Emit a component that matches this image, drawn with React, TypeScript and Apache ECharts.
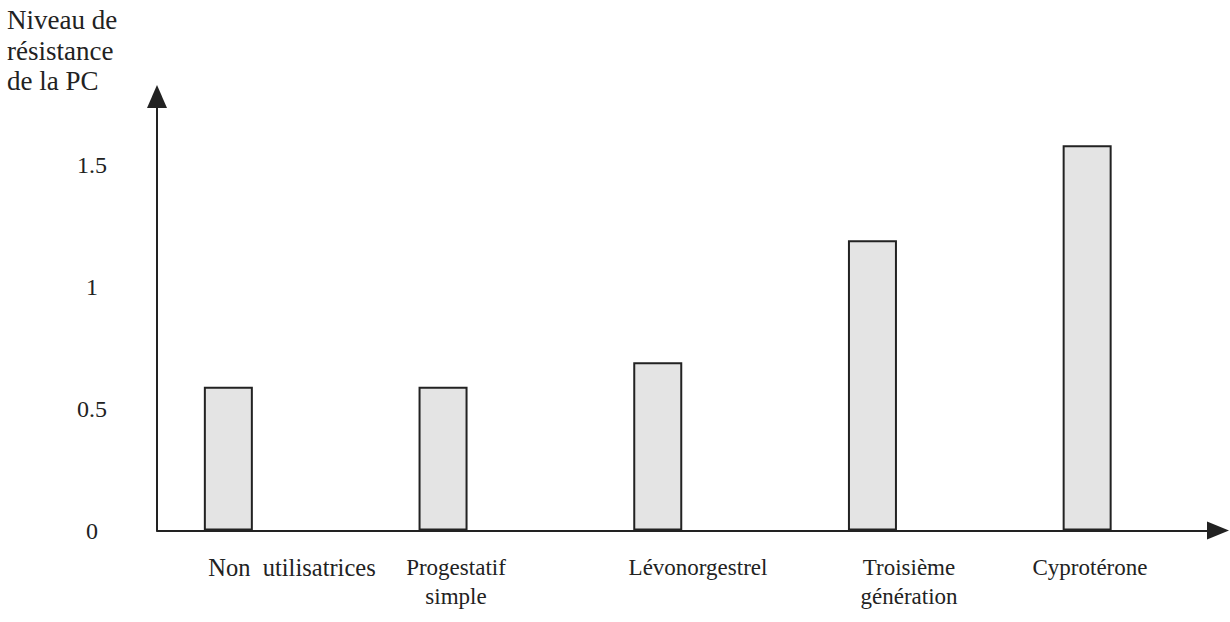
import React, { useEffect, useRef } from "react";
import * as echarts from "echarts";

// ---- data ----
const categories: string[] = [
  "Non  utilisatrices",
  "Progestatif\nsimple",
  "Lévonorgestrel",
  "Troisième\ngénération",
  "Cyprotérone",
];
const values: number[] = [0.59, 0.59, 0.69, 1.19, 1.58];
const yAxisTitle = "Niveau de\nrésistance\nde la PC";
const yMin = 0;
const yMax = 1.78;
const yInterval = 0.5;

// ---- layout (positions / styles only) ----
const labelCentersX = [292, 456, 698, 909, 1090];
const labelFontSizes = [24.5, 23, 23, 23, 23];
const labelTopY = 553;
const FONT = "Liberation Serif";
const INK = "#222";

export default function App() {
  const ref = useRef<HTMLDivElement | null>(null);

  useEffect(() => {
    if (!ref.current) return;
    const chart = echarts.init(ref.current, null, { renderer: "svg" });
    chart.setOption({
      animation: false,
      backgroundColor: "#ffffff",
      textStyle: { fontFamily: FONT },
      title: {
        text: yAxisTitle,
        left: 7,
        top: 5,
        padding: 0,
        textStyle: {
          fontFamily: FONT,
          fontSize: 27,
          fontWeight: "normal",
          lineHeight: 30.5,
          color: INK,
        },
      },
      grid: [
        { left: 157, right: 12, top: 96.5, bottom: 91.5 },
        { left: 121, right: 35.5, top: 96.5, bottom: 91.5 },
      ],
      xAxis: [
        {
          gridIndex: 0,
          type: "value",
          min: 0,
          max: 1,
          axisLine: {
            show: true,
            symbol: ["none", "triangle"],
            symbolSize: [18, 22],
            lineStyle: { color: INK, width: 2 },
          },
          axisTick: { show: false },
          axisLabel: { show: false },
          splitLine: { show: false },
        },
        {
          gridIndex: 1,
          type: "category",
          data: categories,
          show: false,
        },
      ],
      yAxis: [
        {
          gridIndex: 0,
          type: "value",
          min: yMin,
          max: yMax,
          interval: yInterval,
          axisLine: {
            show: true,
            symbol: ["none", "triangle"],
            symbolSize: [20, 23],
            lineStyle: { color: INK, width: 2 },
          },
          axisTick: { show: false },
          axisLabel: {
            show: true,
            margin: 65,
            align: "center",
            fontFamily: FONT,
            fontSize: 24,
            color: INK,
            showMaxLabel: false,
          },
          splitLine: { show: false },
        },
        {
          gridIndex: 1,
          type: "value",
          min: yMin,
          max: yMax,
          show: false,
          splitLine: { show: false },
        },
      ],
      series: [
        {
          type: "bar",
          xAxisIndex: 1,
          yAxisIndex: 1,
          data: values,
          barWidth: 49,
          itemStyle: {
            color: "#e4e4e4",
            borderColor: INK,
            borderWidth: 2,
          },
        },
      ],
      graphic: categories.map((c, i) => ({
        type: "text",
        x: labelCentersX[i],
        y: labelTopY,
        style: {
          text: c,
          align: "center",
          verticalAlign: "top",
          fontFamily: FONT,
          fontSize: labelFontSizes[i],
          lineHeight: 29,
          fill: INK,
        },
      })),
    });
    return () => chart.dispose();
  }, []);

  return (
    <div
      ref={ref}
      style={{ position: "absolute", left: 0, top: 0, width: 1230, height: 622 }}
    />
  );
}
